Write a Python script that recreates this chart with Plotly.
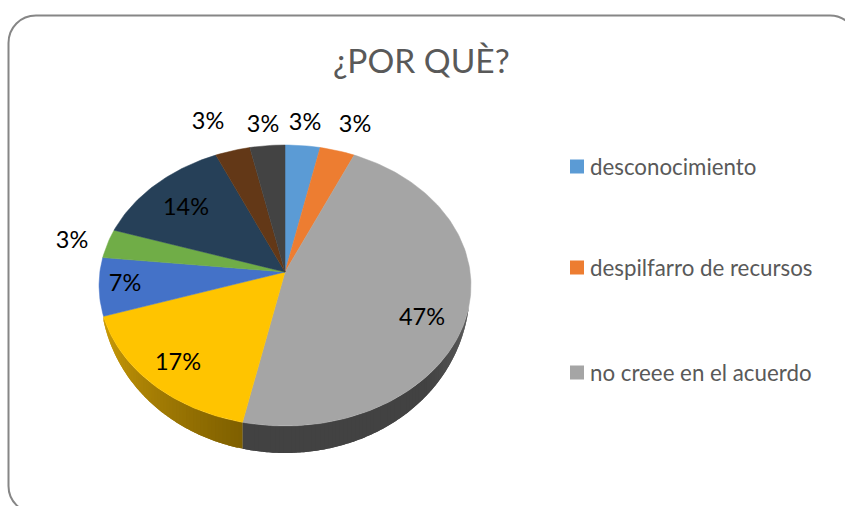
import math
import plotly.graph_objects as go

categories = ["desconocimiento", "despilfarro de recursos", "no creee en el acuerdo",
              "d", "e", "f", "g", "h", "i"]
counts = [1, 1, 14, 5, 2, 1, 4, 1, 1]
percent_labels = ["3%", "3%", "47%", "17%", "7%", "3%", "14%", "3%", "3%"]
legend_colors = ["#5B9BD5", "#ED7D31", "#A5A5A5"]
face_colors = ["#5B9BD5", "#ED7D31", "#A5A5A5", "#FFC400", "#4472C8", "#70AD47",
               "#264058", "#633817", "#434343"]
label_pos = [(305, 124.5), (355, 126.5), (422, 319.5), (178, 364.5), (125, 285.5), (72, 242.5),
             (186, 209.5), (208, 123.5), (263, 126.5)]
title_text = "¿POR QUÈ?"
legend_y = [166.5, 267.5, 372.5]

CX, CY = 285, 272
R, S, P = 185.1, 139.2, 0.096
DEPTH = 27
V0 = 0.25


def depth(theta):
    vis = max(0.0, (-math.cos(theta) - V0) / (1 - V0))
    return DEPTH * vis ** 0.7


def proj(theta, dy=0):
    u, v = math.sin(theta), math.cos(theta)
    w = 1 + P * v
    return CX + R * u / w, CY - S * v / w + dy


def mix(c1, c2, t):
    t = min(1, max(0, t))
    a = [int(c1[i:i+2], 16) for i in (1, 3, 5)]
    b = [int(c2[i:i+2], 16) for i in (1, 3, 5)]
    return "rgb(%d,%d,%d)" % tuple(round(a[i] + (b[i] - a[i]) * t) for i in range(3))


total = sum(counts)
fig = go.Figure()
cum = 0
spans = []
for c in counts:
    spans.append((cum / total * 2 * math.pi, (cum + c) / total * 2 * math.pi))
    cum += c


def wall_color(idx, frac):
    if idx == 2:
        return mix("#5F5F5F", "#424242", (frac - 0.48) / 0.18)
    return mix("#7F6000", "#CC9C08", frac)


# side walls: gradient from overlapping strips, painted in order
for idx in (2, 3):
    start, end = spans[idx]
    n = max(2, int((end - start) / 0.02))
    step = (end - start) / n
    for k in range(n):
        t0 = start + step * k
        t1 = min(end, t0 + step * 2)
        pts = [t0 + (t1 - t0) * j / 4 for j in range(5)]
        xs = [proj(t)[0] for t in pts] + [proj(t, depth(t))[0] for t in reversed(pts)]
        ys = [proj(t)[1] for t in pts] + [proj(t, depth(t))[1] for t in reversed(pts)]
        fig.add_trace(go.Scatter(x=xs, y=ys, mode="none", fill="toself",
                                 fillcolor=wall_color(idx, k / (n - 1)),
                                 hoverinfo="skip", showlegend=False))

# top faces
for (a0, a1), col, cat in zip(spans, face_colors, categories):
    n = max(8, int((a1 - a0) / 0.02))
    pts = [a0 + (a1 - a0) * j / n for j in range(n + 1)]
    xs = [CX] + [proj(t)[0] for t in pts] + [CX]
    ys = [CY] + [proj(t)[1] for t in pts] + [CY]
    fig.add_trace(go.Scatter(x=xs, y=ys, mode="lines", fill="toself", fillcolor=col,
                             line=dict(color=col, width=0.5), name=cat, showlegend=False))

# data labels
fig.add_trace(go.Scatter(x=[p[0] for p in label_pos], y=[p[1] for p in label_pos],
                         mode="text", text=percent_labels,
                         textfont=dict(family="Lato", size=23.5, color="#000000"),
                         textposition="middle center", showlegend=False, hoverinfo="skip"))

# legend
fig.add_trace(go.Scatter(x=[577] * 3, y=legend_y, mode="markers",
                         marker=dict(symbol="square", size=14, color=legend_colors),
                         showlegend=False, hoverinfo="skip"))
for name, y in zip(categories[:3], legend_y):
    fig.add_annotation(x=588, y=y, text=name, showarrow=False, xanchor="left",
                       font=dict(family="Lato", size=22.3, color="#595959"))

fig.add_shape(type="path",
              path="M 36 15.5 L 830 15.5 C 845 15.5 857 27.5 857 43 L 857 486 "
                   "C 857 501 845 513 830 513 L 36 513 C 20.5 513 8.5 501 8.5 486 "
                   "L 8.5 43 C 8.5 27.5 20.5 15.5 36 15.5 Z",
              line=dict(color="#868686", width=2), layer="below")

fig.add_annotation(x=421.5, y=60, text=title_text, showarrow=False,
                   font=dict(family="Lato", size=33.5, color="#595959"))

fig.update_layout(width=845, height=506, margin=dict(l=0, r=0, t=0, b=0),
                  paper_bgcolor="white", plot_bgcolor="white",
                  xaxis=dict(range=[0, 845], visible=False, fixedrange=True),
                  yaxis=dict(range=[506, 0], visible=False, fixedrange=True))
fig.write_html("out.html", config={"displayModeBar": False},
               post_script="document.body.style.margin='0';document.body.style.overflow='hidden';")
